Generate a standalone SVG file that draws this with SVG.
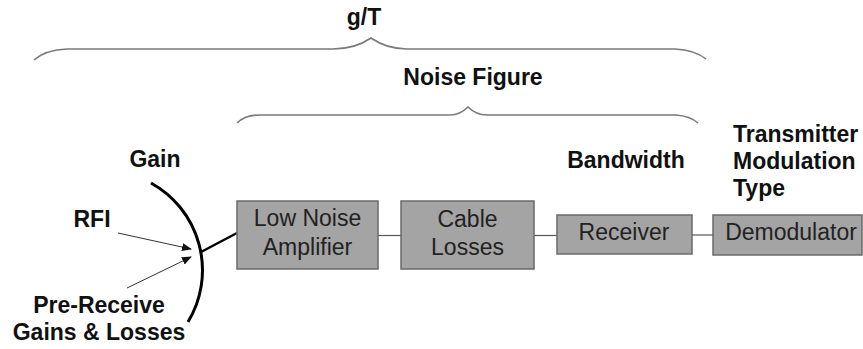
<svg xmlns="http://www.w3.org/2000/svg" width="863" height="349" viewBox="0 0 863 349">
<style>
.lbl{font-family:"Liberation Sans",Arial,sans-serif;font-weight:bold;font-size:23px;fill:#111;}
.box{fill:#a4a4a4;stroke:#6a6a6a;stroke-width:1.5;}
.bt{font-family:"Liberation Sans",Arial,sans-serif;font-size:23px;fill:#222;text-anchor:middle;}
.brace{fill:none;stroke:#7a7a7a;stroke-width:1.6;}
.conn{fill:none;stroke:#555;stroke-width:1.2;}
.arr{fill:none;stroke:#333;stroke-width:1;}
</style>
<defs>
<marker id="ah" markerWidth="10" markerHeight="8" refX="9" refY="4" orient="auto" markerUnits="userSpaceOnUse">
<path d="M0,0 L10,4 L0,8 Z" fill="#111"/>
</marker>
</defs>
<g id="braces">
<path class="brace" d="M34,60 Q45,50 67,49 L333,49 Q355,49 371,38 Q387,49 407,49 L675,49 Q695,50 706,59"/>
<path class="brace" d="M237,123 Q245,115 260,115 L450,115 Q460,115 468,107 Q476,115 487,115 L676,115 Q690,116 698,123"/>
</g>
<g id="labels">
<text class="lbl" x="364" y="25" text-anchor="middle">g/T</text>
<text class="lbl" x="473" y="85" text-anchor="middle">Noise Figure</text>
<text class="lbl" x="155" y="167" text-anchor="middle">Gain</text>
<text class="lbl" x="92" y="227" text-anchor="middle">RFI</text>
<text class="lbl" x="99" y="313" text-anchor="middle">Pre-Receive</text>
<text class="lbl" x="99" y="340" text-anchor="middle">Gains &amp; Losses</text>
<text class="lbl" x="626" y="168" text-anchor="middle">Bandwidth</text>
<text class="lbl" x="733" y="142">Transmitter</text>
<text class="lbl" x="733" y="169">Modulation</text>
<text class="lbl" x="733" y="196">Type</text>
</g>
<g id="antenna">
<path d="M151,183 A99.7,99.7 0 0 1 188,322" fill="none" stroke="#000" stroke-width="3"/>
</g>
<g id="connectors">
<line x1="201" y1="252" x2="237" y2="233" stroke="#000" stroke-width="2.5"/>
<line class="conn" x1="378" y1="235.5" x2="401" y2="235.5"/>
<line class="conn" x1="534" y1="235.5" x2="557" y2="235.5"/>
<line class="conn" x1="692" y1="235" x2="713" y2="235"/>
<line class="arr" x1="118" y1="233" x2="191" y2="249" marker-end="url(#ah)"/>
<line class="arr" x1="127" y1="288" x2="191" y2="257" marker-end="url(#ah)"/>
</g>
<g id="lna">
<rect class="box" x="237" y="201" width="141" height="68"/>
<text class="bt" x="307.5" y="226">Low Noise</text>
<text class="bt" x="307.5" y="255">Amplifier</text>
</g>
<g id="cable">
<rect class="box" x="401" y="201" width="133" height="68"/>
<text class="bt" x="467.5" y="226.5">Cable</text>
<text class="bt" x="467.5" y="255">Losses</text>
</g>
<g id="receiver">
<rect class="box" x="557" y="215" width="135" height="39"/>
<text class="bt" x="624" y="240">Receiver</text>
</g>
<g id="demodulator">
<rect class="box" x="713" y="215" width="149" height="40"/>
<text class="bt" x="791" y="240">Demodulator</text>
</g>
</svg>
